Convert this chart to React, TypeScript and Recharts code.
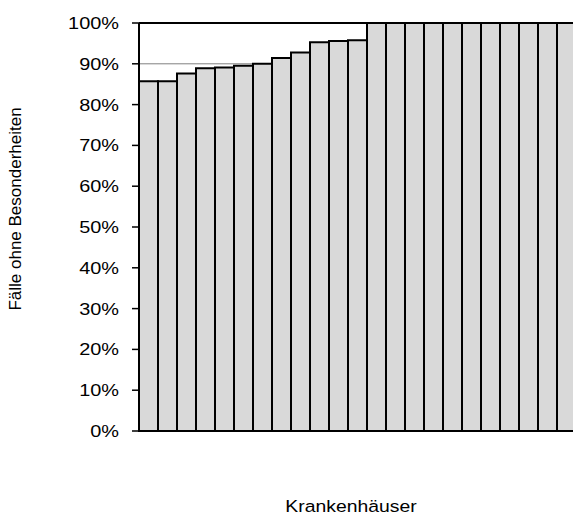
import React from 'react';
import { BarChart, Bar, XAxis, YAxis, CartesianGrid, ReferenceLine, Label } from 'recharts';

const hospitals = Array.from({ length: 23 }, (_, i) => `KH ${i + 1}`);
const shares = [
  85.7, 85.7, 87.6, 88.9, 89.1, 89.5, 90.0, 91.4, 92.8, 95.3, 95.6, 95.8,
  100, 100, 100, 100, 100, 100, 100, 100, 100, 100, 100,
];
const yTicks = [0, 10, 20, 30, 40, 50, 60, 70, 80, 90, 100];

const data = hospitals.map((name, i) => ({ name, value: shares[i] }));

const font = '"Liberation Sans", Arial, sans-serif';

const YTick = (props: any) => {
  const { x, y, payload } = props;
  return (
    <g transform={`translate(${x},${y})`}>
      <text transform="scale(1.17,1)" textAnchor="end" dy="0.355em" fontSize={17} fill="#000" fontFamily={font}>
        {payload.value}%
      </text>
    </g>
  );
};

export default function App() {
  return (
    <div style={{ position: 'absolute', left: 0, top: 0, width: 573, height: 518, overflow: 'hidden', background: '#fff' }}>
      <BarChart
        width={580}
        height={518}
        data={data}
        margin={{ top: 23, right: 4, bottom: 0, left: 0 }}
        barCategoryGap={0}
        barGap={0}
      >
        <CartesianGrid horizontal vertical={false} stroke="#808080" strokeWidth={1} />
        <XAxis dataKey="name" height={87} tick={false} tickLine={false} axisLine={{ stroke: '#000', strokeWidth: 2 }}>
          <Label
            content={() => (
              <g transform="translate(351,512)">
                <text transform="scale(1.14,1)" textAnchor="middle" fontSize={17} fill="#000" fontFamily={font}>
                  Krankenhäuser
                </text>
              </g>
            )}
          />
        </XAxis>
        <YAxis
          width={139}
          domain={[0, 100]}
          ticks={yTicks}
          interval={0}
          tickSize={7}
          tickMargin={13}
          tick={<YTick />}
          tickLine={{ stroke: '#000', strokeWidth: 1.5 }}
          axisLine={{ stroke: '#000', strokeWidth: 2 }}
        >
          <Label
            content={() => (
              <text
                x={15}
                y={209}
                transform="rotate(-90, 15, 209)"
                textAnchor="middle"
                dominantBaseline="central"
                fontSize={17}
                fill="#000"
                fontFamily={font}
              >
                Fälle ohne Besonderheiten
              </text>
            )}
          />
        </YAxis>
        <ReferenceLine y={100} stroke="#000" strokeWidth={2} />
        <Bar dataKey="value" fill="#d9d9d9" stroke="#000" strokeWidth={2} isAnimationActive={false} />
      </BarChart>
    </div>
  );
}
